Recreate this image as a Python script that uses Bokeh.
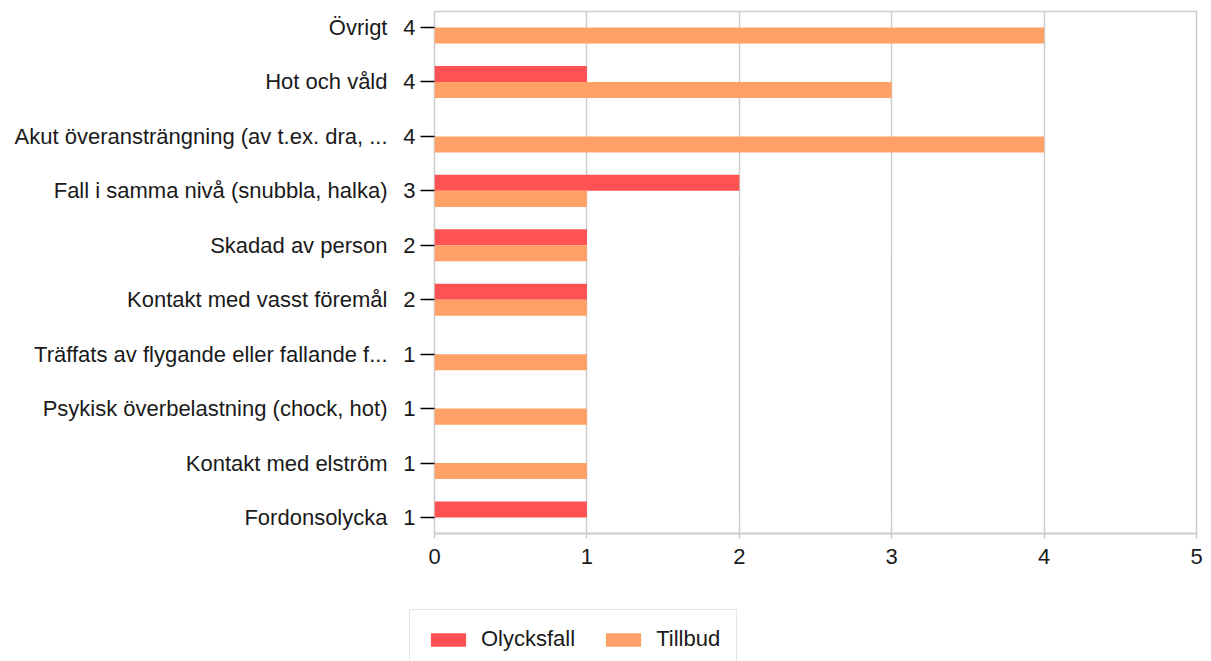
from bokeh.plotting import figure
from bokeh.layouts import column
from bokeh.models import (ColumnDataSource, LinearAxis, FixedTicker, Range1d,
                          Legend, LegendItem)
from bokeh.embed import file_html
from bokeh.resources import INLINE

# ---- data (top to bottom as in the chart) ----
categories = [
    "Övrigt",
    "Hot och våld",
    "Akut överansträngning (av t.ex. dra, ...",
    "Fall i samma nivå (snubbla, halka)",
    "Skadad av person",
    "Kontakt med vasst föremål",
    "Träffats av flygande eller fallande f...",
    "Psykisk överbelastning (chock, hot)",
    "Kontakt med elström",
    "Fordonsolycka",
]
olycksfall = [0, 1, 0, 2, 1, 1, 0, 0, 0, 1]
tillbud = [4, 3, 4, 1, 1, 1, 1, 1, 1, 0]
series_names = ["Olycksfall", "Tillbud"]
x_ticks = [0, 1, 2, 3, 4, 5]

RED = "#FF5252"
ORANGE = "#FFA066"
GRID = "#CCCCCC"
TEXT = "#1a1a1a"
FONT = "Liberation Sans"
FS = "22px"

n = len(categories)
pos = [n - 1 - i for i in range(n)]
totals = [a + b for a, b in zip(olycksfall, tillbud)]
bar_h = 0.2945

src = ColumnDataSource(dict(
    pos=pos,
    red_y=[p + bar_h / 2 for p in pos],
    org_y=[p - bar_h / 2 for p in pos],
    olycksfall=olycksfall,
    tillbud=tillbud,
))

W = 1206
p = figure(width=W, height=600, output_backend="svg", toolbar_location=None,
           x_range=Range1d(0, 5), y_range=Range1d(-bar_h, n - 1 + bar_h),
           y_axis_location=None, min_border_left=434, min_border_right=10,
           min_border_top=11, min_border_bottom=67)
p.frame_align = False

p.outline_line_color = GRID
p.outline_line_width = 1.5
p.ygrid.grid_line_color = None
p.xgrid.ticker = FixedTicker(ticks=x_ticks)
p.xgrid.grid_line_color = GRID
p.xgrid.grid_line_width = 1.5

xa = p.xaxis[0]
xa.ticker = FixedTicker(ticks=x_ticks)
xa.axis_line_color = GRID
xa.axis_line_width = 1.5
xa.major_tick_line_color = GRID
xa.major_tick_line_width = 1.5
xa.major_tick_out = 5
xa.major_tick_in = 0
xa.minor_tick_line_color = None
xa.major_label_standoff = 10
xa.major_label_text_font = FONT
xa.major_label_text_font_size = FS
xa.major_label_text_color = TEXT

p.hbar(y="red_y", left=0, right="olycksfall", height=bar_h, source=src,
       fill_color=RED, line_color=None)
p.hbar(y="org_y", left=0, right="tillbud", height=bar_h, source=src,
       fill_color=ORANGE, line_color=None)

# inner left axis: totals with black ticks
ax1 = LinearAxis(ticker=FixedTicker(ticks=pos),
                 major_label_overrides={pp: str(t) for pp, t in zip(pos, totals)})
ax1.axis_line_color = None
ax1.major_tick_line_color = "black"
ax1.major_tick_line_width = 1.3
ax1.major_tick_out = 14
ax1.major_tick_in = 0
ax1.minor_tick_line_color = None
ax1.major_label_standoff = 5
ax1.major_label_text_font = FONT
ax1.major_label_text_font_size = FS
ax1.major_label_text_color = TEXT
p.add_layout(ax1, "left")

# outer left axis: category names
ax2 = LinearAxis(ticker=FixedTicker(ticks=pos),
                 major_label_overrides={pp: c for pp, c in zip(pos, categories)})
ax2.axis_line_color = None
ax2.major_tick_line_color = None
ax2.major_tick_out = 0
ax2.major_tick_in = 0
ax2.minor_tick_line_color = None
ax2.major_label_standoff = 13
ax2.major_label_text_font = FONT
ax2.major_label_text_font_size = FS
ax2.major_label_text_color = TEXT
p.add_layout(ax2, "left")

# ---- legend strip below the chart ----
p2 = figure(width=W, height=61, output_backend="svg", toolbar_location=None,
            x_axis_location=None, y_axis_location=None,
            x_range=Range1d(10, 11), y_range=Range1d(10, 11),
            min_border_left=0, min_border_right=0, min_border_top=0,
            min_border_bottom=0)
p2.frame_align = False
p2.outline_line_color = None
p2.xgrid.grid_line_color = None
p2.ygrid.grid_line_color = None
l1 = p2.hbar(y="red_y", left=0, right="olycksfall", height=bar_h, source=src,
             fill_color=RED, line_color=None)
l2 = p2.hbar(y="org_y", left=0, right="tillbud", height=bar_h, source=src,
             fill_color=ORANGE, line_color=None)

legend = Legend(items=[LegendItem(label=series_names[0], renderers=[l1]),
                       LegendItem(label=series_names[1], renderers=[l2])],
                orientation="horizontal", location=(409, -8))
legend.border_line_color = GRID
legend.border_line_width = 1.5
legend.padding = 16
legend.margin = 0
legend.spacing = 26
legend.glyph_width = 44
legend.glyph_height = 17
legend.label_standoff = 11
legend.label_text_font = FONT
legend.label_text_font_size = FS
legend.label_text_color = TEXT
legend.background_fill_alpha = 1
p2.add_layout(legend, "center")

open("out.html", "w").write(file_html(column(p, p2, spacing=0), INLINE))
